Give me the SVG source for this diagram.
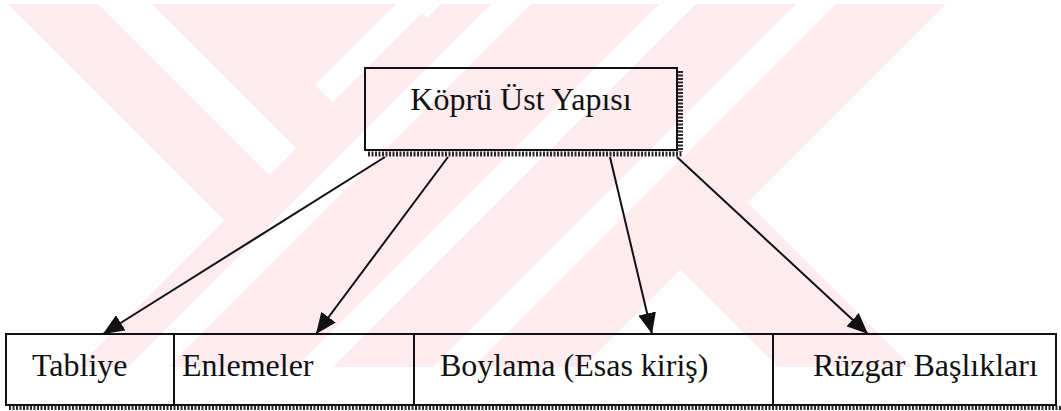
<svg xmlns="http://www.w3.org/2000/svg" width="1061" height="411" viewBox="0 0 1061 411">
  <style>
    .wm { fill: #fdebef; }
    .gap { fill: #ffffff; }
    .box { fill: none; stroke: #111; stroke-width: 2; }
    .shadow { stroke: #2a2a2a; stroke-dasharray: 2 1.5; fill: none; }
    .lbl { font-family: "Liberation Serif", "Times New Roman", serif; font-size: 32px; fill: #111; }
    .edge { stroke: #111; stroke-width: 2; fill: none; marker-end: url(#head); }
  </style>
  <defs>
    <marker id="head" markerUnits="userSpaceOnUse" markerWidth="22" markerHeight="18" refX="21" refY="9" orient="auto">
      <path d="M0,0 L21,9 L0,18 z" fill="#111"/>
    </marker>
    <clipPath id="band">
      <rect x="0" y="4" width="1061" height="363"/>
    </clipPath>
  </defs>

  <rect width="1061" height="411" fill="#ffffff"/>

  <!-- background emblem: striped diagonal bands -->
  <g id="emblem" clip-path="url(#band)">
    <polygon class="wm" points="-6,-10 399,-10 554.5,145.5 352,348"/>
    <polygon class="gap" points="84,-10 138,-10 296.5,148.5 269.5,175.5"/>
    <polygon class="gap" points="410,-10 445,-10 332.5,102.5 315,85"/>
    <polygon class="wm" points="455,-10 960,-10 570,380 65,380"/>
    <polygon class="wm" points="572.5,27.5 925,380 791,380 505.5,94.5"/>
    <polygon class="gap" points="505,-10 545,-10 155,380 115,380"/>
    <polygon class="gap" points="673,-10 710,-10 320,380 283,380"/>
    <polygon class="gap" points="810,-10 850,-10 460,380 420,380"/>
  </g>

  <!-- root -->
  <g id="node-root">
    <rect class="box" x="365" y="68" width="312" height="82"/>
    <line class="shadow" x1="368" y1="154" x2="683" y2="154" stroke-width="5"/>
    <line class="shadow" x1="680.5" y1="71" x2="680.5" y2="152" stroke-width="5"/>
    <text class="lbl" x="521" y="110" text-anchor="middle">Köprü Üst Yapısı</text>
  </g>

  <!-- children -->
  <g id="node-tabliye">
    <rect class="box" x="6" y="334" width="168" height="71"/>
    <text class="lbl" x="32" y="376">Tabliye</text>
  </g>
  <g id="node-enlemeler">
    <rect class="box" x="174" y="334" width="240" height="71"/>
    <text class="lbl" x="182" y="376">Enlemeler</text>
  </g>
  <g id="node-boylama">
    <rect class="box" x="414" y="334" width="359" height="71"/>
    <text class="lbl" x="440" y="376">Boylama (Esas kiriş)</text>
  </g>
  <g id="node-ruzgar">
    <rect class="box" x="773" y="334" width="283" height="71"/>
    <text class="lbl" x="813" y="376">Rüzgar Başlıkları</text>
  </g>
  <line class="shadow" x1="9" y1="408" x2="1061" y2="408" stroke-width="4"/>

  <!-- connectors -->
  <g id="connectors">
    <line class="edge" x1="385" y1="157" x2="103" y2="334"/>
    <line class="edge" x1="448" y1="157" x2="316" y2="334"/>
    <line class="edge" x1="610" y1="157" x2="652" y2="334"/>
    <line class="edge" x1="677" y1="157" x2="868" y2="334"/>
  </g>
</svg>
